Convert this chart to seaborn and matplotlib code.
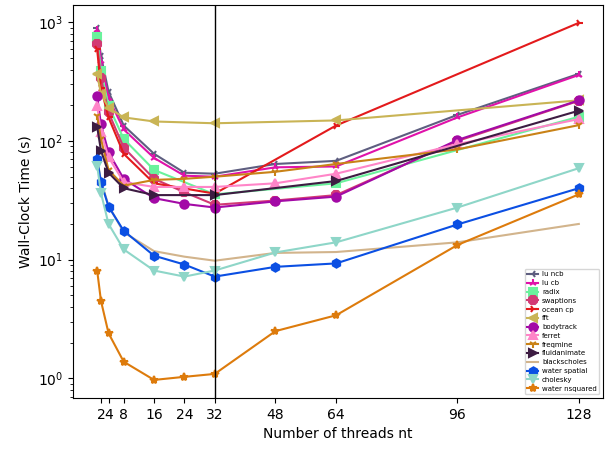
import numpy as np
import matplotlib
matplotlib.use("Agg")
import matplotlib.pyplot as plt
import seaborn as sns

# thread counts
x_all = [1, 2, 4, 8, 16, 24, 32, 48, 64, 96, 128]
x_pow2 = [1, 2, 4, 8, 16, 32, 64, 128]
xticks = [2, 4, 8, 16, 24, 32, 48, 64, 96, 128]

# wall-clock times (s)
lu_ncb = [900, 520, 260, 135, 78, 54, 53, 64, 68, 166, 368]
lu_cb = [860, 470, 230, 125, 72, 51, 50, 60, 61, 158, 360]
radix = [750, 390, 198, 104, 57, 35.5, 44, 160]
swaptions = [655, 340, 174, 88, 48, 37, 29, 31.5, 35, 100, 218]
ocean_cp = [590, 280, 158, 78, 44, 36, 135, 990]
fft = [365, 250, 190, 158, 146, 141, 149, 220]
bodytrack = [239, 138, 80, 48, 33, 29.5, 27.5, 31, 34, 102, 220]
ferret = [198, 118, 73, 45, 41, 41, 41, 44, 53, 94, 153]
freqmine = [163, 104, 57, 42, 47, 48, 50, 55, 64, 85, 136]
fluidanimate = [132, 83, 54, 40, 35, 35, 46, 180]
blackscholes = [72, 46, 28.5, 17, 11.8, 10.6, 9.8, 11.4, 11.6, 14, 20]
water_spatial = [70, 45, 28, 17.5, 10.8, 9.1, 7.2, 8.7, 9.3, 19.8, 40]
cholesky = [62, 36.5, 20, 12.2, 8.1, 7.2, 8.1, 11.5, 14, 27.5, 59]
water_nsquared = [8.1, 4.5, 2.4, 1.38, 0.97, 1.03, 1.09, 2.5, 3.4, 13.3, 35.5]

series = [
    ("lu ncb", x_all, lu_ncb, "#5e5e80", "3"),
    ("lu cb", x_all, lu_cb, "#e012aa", "2"),
    ("radix", x_pow2, radix, "#6af29c", "s"),
    ("swaptions", x_all, swaptions, "#d23a74", "8"),
    ("ocean cp", x_pow2, ocean_cp, "#e31a1c", "4"),
    ("fft", x_pow2, fft, "#c9b455", "<"),
    ("bodytrack", x_all, bodytrack, "#a30aa6", "o"),
    ("ferret", x_all, ferret, "#ff85c8", "^"),
    ("freqmine", x_all, freqmine, "#c98217", "1"),
    ("fluidanimate", x_pow2, fluidanimate, "#3d1c42", ">"),
    ("blackscholes", x_all, blackscholes, "#d2b48c", ""),
    ("water spatial", x_all, water_spatial, "#0b4fe3", "h"),
    ("cholesky", x_all, cholesky, "#8ed6c8", "v"),
    ("water nsquared", x_all, water_nsquared, "#dd7b0c", "*"),
]

fig, ax = plt.subplots(figsize=(6.09, 4.51), dpi=100)
fig.subplots_adjust(left=0.12, right=0.99, bottom=0.118, top=0.989)

for name, xs, ys, col, mk in series:
    sns.lineplot(x=xs, y=ys, ax=ax, color=col, marker=mk if mk else None,
                 markersize=6, linewidth=1.5, markeredgecolor=col,
                 markeredgewidth=1.5, label=name)

ax.axvline(32, color="black", linewidth=1)
ax.set_yscale("log")
ax.set_xticks(xticks)
ax.set_xticklabels([str(t) for t in xticks])
ax.set_xlabel("Number of threads nt")
ax.set_ylabel("Wall-Clock Time (s)")
ax.legend(loc="lower right", fontsize=5, labelspacing=0.4, handlelength=1.6,
          handletextpad=0.5)

fig.savefig("out.png", dpi=100)
